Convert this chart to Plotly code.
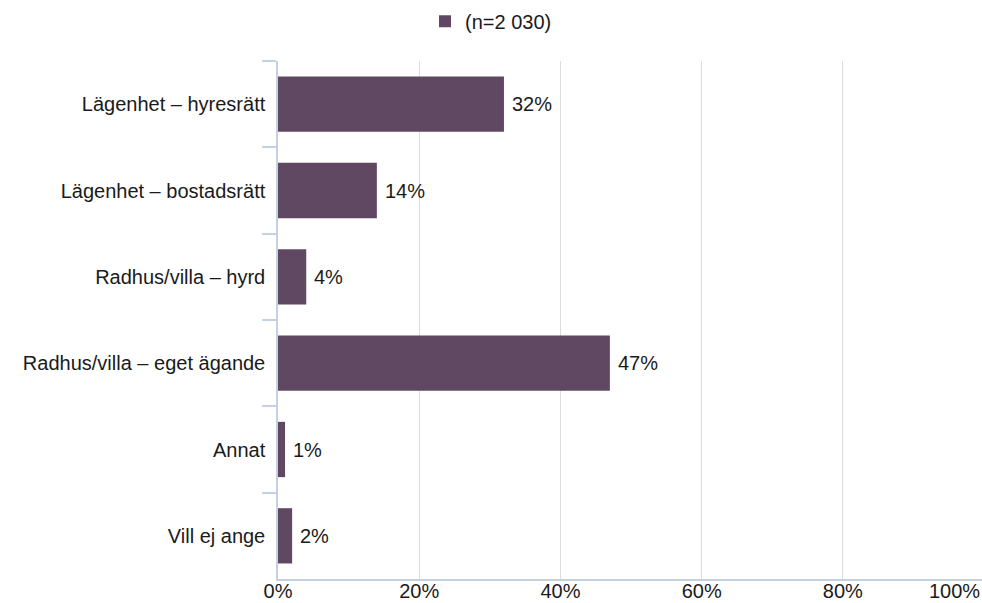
import plotly.graph_objects as go

categories = [
    "Lägenhet – hyresrätt",
    "Lägenhet – bostadsrätt",
    "Radhus/villa – hyrd",
    "Radhus/villa – eget ägande",
    "Annat",
    "Vill ej ange",
]
values = [32, 14, 4, 47, 1, 2]
series_name = "(n=2 030)"
tick_values = [0, 20, 40, 60, 80]
tick_labels = ["0%", "20%", "40%", "60%", "80%"]

BAR_COLOR = "#614862"
AXIS_COLOR = "#c3d1e2"
GRID_COLOR = "#dcdcdc"
FONT = dict(family="Liberation Sans, Arial, sans-serif", size=20, color="#1a1a1a")

fig = go.Figure(
    go.Bar(
        x=values,
        y=categories,
        orientation="h",
        name=series_name,
        marker=dict(color=BAR_COLOR, line=dict(width=0)),
        showlegend=True,
    )
)

# value labels to the right of each bar
for cat, v in zip(categories, values):
    fig.add_annotation(
        x=v,
        y=cat,
        xref="x",
        yref="y",
        text=f"{v}%",
        showarrow=False,
        xanchor="left",
        xshift=6,
        font=FONT,
    )

fig.update_layout(
    width=982,
    height=603,
    margin=dict(l=278, r=0, t=61, b=24, autoexpand=False),
    paper_bgcolor="white",
    plot_bgcolor="white",
    font=FONT,
    bargap=0.36,
    showlegend=True,
    legend=dict(
        orientation="h",
        xref="container",
        x=0.5,
        xanchor="center",
        yref="container",
        y=0.997,
        yanchor="top",
        font=FONT,
        itemwidth=30,
    ),
    xaxis=dict(
        range=[0, 99.7],
        tickvals=tick_values,
        ticktext=tick_labels,
        showgrid=True,
        gridcolor=GRID_COLOR,
        gridwidth=1,
        showline=True,
        linecolor=AXIS_COLOR,
        linewidth=1.5,
        zeroline=False,
        ticks="",
        ticklabelstandoff=-7,
        tickfont=FONT,
        automargin=False,
    ),
    yaxis=dict(
        autorange="reversed",
        showline=True,
        linecolor=AXIS_COLOR,
        linewidth=1.5,
        ticks="outside",
        tickson="boundaries",
        ticklen=14,
        tickcolor=AXIS_COLOR,
        tickwidth=1.5,
        ticklabelstandoff=7,
        showgrid=False,
        tickfont=FONT,
        automargin=False,
    ),
    annotations=list(fig.layout.annotations) + [
        dict(
            text="100%",
            xref="paper",
            yref="paper",
            x=1,
            y=0,
            xanchor="right",
            yanchor="top",
            yshift=1,
            showarrow=False,
            font=FONT,
        )
    ],
)

fig.write_html("out.html")
